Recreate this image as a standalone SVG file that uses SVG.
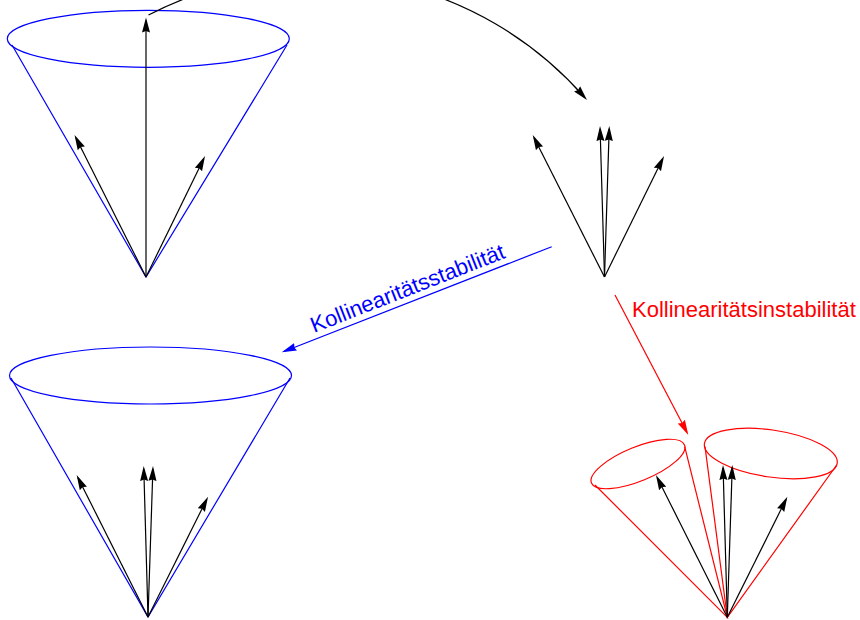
<svg xmlns="http://www.w3.org/2000/svg" width="860" height="620" viewBox="0 0 860 620">
<style>
.bg{fill:#fff}
.v{fill:none;stroke:#000;stroke-width:1.2;marker-end:url(#ak)}
.b{fill:none;stroke:#00f;stroke-width:1.2}
.r{fill:none;stroke:#f00;stroke-width:1.2}
.t{font-family:"Liberation Sans",Arial,sans-serif;font-size:22px}
</style>
<defs>
<marker id="ak" markerUnits="userSpaceOnUse" markerWidth="17" markerHeight="10" refX="12" refY="5" orient="auto"><path d="M0 1L15 5L0 9L1.5 5z" fill="#000"/></marker>
<marker id="ab" markerUnits="userSpaceOnUse" markerWidth="17" markerHeight="10" refX="12" refY="5" orient="auto"><path d="M0 1L15 5L0 9L1.5 5z" fill="#00f"/></marker>
<marker id="ar" markerUnits="userSpaceOnUse" markerWidth="17" markerHeight="10" refX="12" refY="5" orient="auto"><path d="M0 1L15 5L0 9L1.5 5z" fill="#f00"/></marker>
</defs>
<rect class="bg" width="860" height="620"/>
<g id="cone-top-left">
<ellipse class="b" cx="148.3" cy="38.8" rx="141" ry="28.5"/>
<path class="b" d="M12 45L146 277L287 45"/>
<path class="v" d="M146 277V20.5"/>
<path class="v" d="M146 277L75.9 137.7"/>
<path class="v" d="M146 277L203.7 158.7"/>
</g>
<g id="vectors-top-right">
<path class="v" d="M604.5 277L534.1 137.7"/>
<path class="v" d="M604.5 277L600.1 129"/>
<path class="v" d="M604.5 277L609.2 129"/>
<path class="v" d="M604.5 277L662.7 158.7"/>
</g>
<g id="cone-bottom-left">
<ellipse class="b" cx="150.5" cy="375.5" rx="141" ry="28.5"/>
<path class="b" d="M11 378L148 617L290 378"/>
<path class="v" d="M148 617L78 477.7"/>
<path class="v" d="M148 617L143.8 469"/>
<path class="v" d="M148 617L152.9 469"/>
<path class="v" d="M148 617L206.7 499.4"/>
</g>
<g id="cones-bottom-right">
<ellipse class="r" cx="638" cy="464" rx="50.3" ry="17" transform="rotate(-22.3 638 464)"/>
<ellipse class="r" cx="770.8" cy="453.5" rx="67.1" ry="23.5" transform="rotate(8.45 770.8 453.5)"/>
<path class="r" d="M595 485L727.3 617.3L684.7 446.7"/>
<path class="r" d="M705 446.7L727.3 617.3L836.7 465"/>
<path class="v" d="M727.3 617.3L657.3 477.7"/>
<path class="v" d="M727.3 617.3L723.1 468"/>
<path class="v" d="M727.3 617.3L732.2 468"/>
<path class="v" d="M727.3 617.3L786 499.4"/>
</g>
<g id="connectors">
<path d="M148.5 15A360 360 0 0 1 585 97.8" fill="none" stroke="#000" stroke-width="1.2" marker-end="url(#ak)"/>
<path d="M551.7 246.7L284.5 351.2" class="b" marker-end="url(#ab)"/>
<path d="M615 295L686.9 432.3" class="r" marker-end="url(#ar)"/>
</g>
<g id="labels">
<text class="t" fill="#00f" transform="translate(314 333) rotate(-21.4)">Kollinearitätsstabilität</text>
<text class="t" fill="#f00" x="632" y="316.7">Kollinearitätsinstabilität</text>
</g>
</svg>
